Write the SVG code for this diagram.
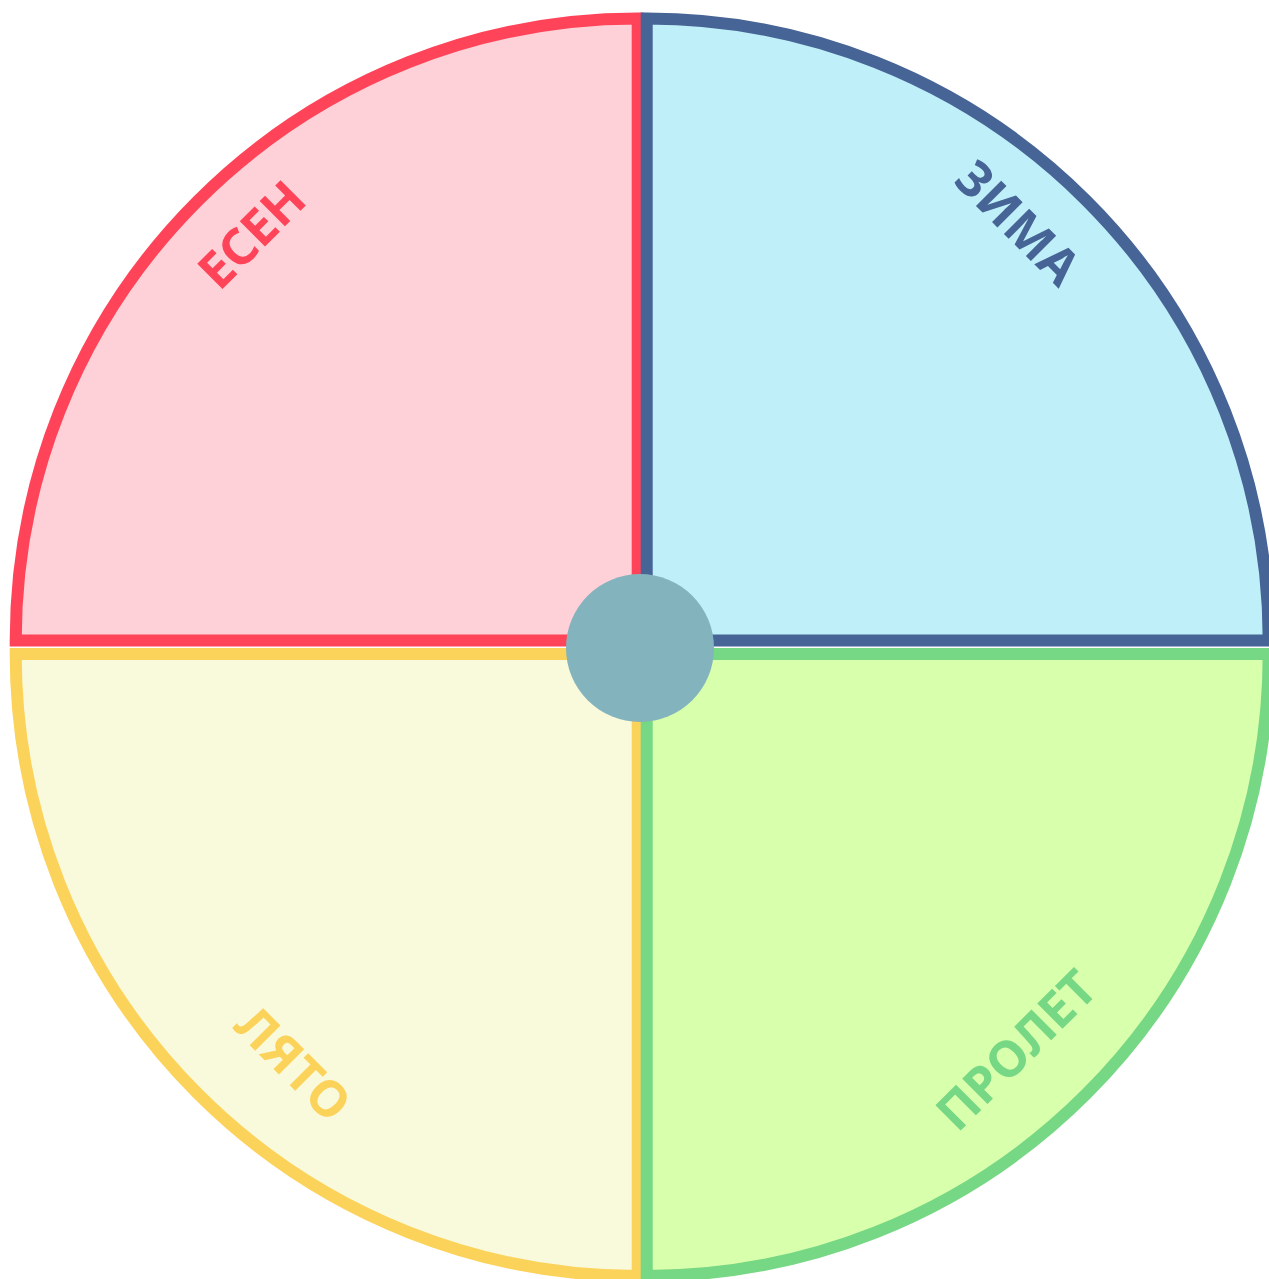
<svg xmlns="http://www.w3.org/2000/svg" width="1269" height="1279" viewBox="0 0 1269 1279" lang="bg" xml:lang="bg">
<style>
.q{stroke-width:12}
.lbl{font-family:"Noto Sans","Open Sans","DejaVu Sans",sans-serif;font-weight:700;font-size:50px;text-anchor:middle}
</style>
<rect width="1269" height="1279" fill="#ffffff"/>
<g id="autumn">
<path class="q" d="M637.7 640.5 L15.7 640.5 A622 622 0 0 1 637.7 18.5 Z" fill="#fdd1d7" stroke="#ff4459"/>
</g>
<g id="winter">
<path class="q" d="M646.7 640.5 L646.7 18.5 A622 622 0 0 1 1268.7 640.5 Z" fill="#bff0f9" stroke="#466496"/>
</g>
<g id="summer">
<path class="q" d="M637.7 654 L637.7 1276 A622 622 0 0 1 15.7 654 Z" fill="#f9f9dc" stroke="#fcd35a"/>
</g>
<g id="spring">
<path class="q" d="M646.7 654 L1268.7 654 A622 622 0 0 1 646.7 1276 Z" fill="#d8ffab" stroke="#76d784"/>
</g>
<g id="labels">
<text class="lbl" fill="#ff4459" transform="translate(251.5,234.5) rotate(-45)" y="18">ЕСЕН</text>
<text class="lbl" fill="#466496" transform="translate(1018,222.5) rotate(45)" y="18">ЗИМА</text>
<text class="lbl" fill="#fcd35a" transform="translate(293.5,1063.5) rotate(45)" y="18">ЛЯТО</text>
<text class="lbl" fill="#76d784" transform="translate(1016,1050) rotate(-45)" y="18">ПРОЛЕТ</text>
</g>
<g id="hub">
<circle cx="640" cy="648" r="74" fill="#83b3bd"/>
</g>
<g id="connectors"></g>
</svg>
